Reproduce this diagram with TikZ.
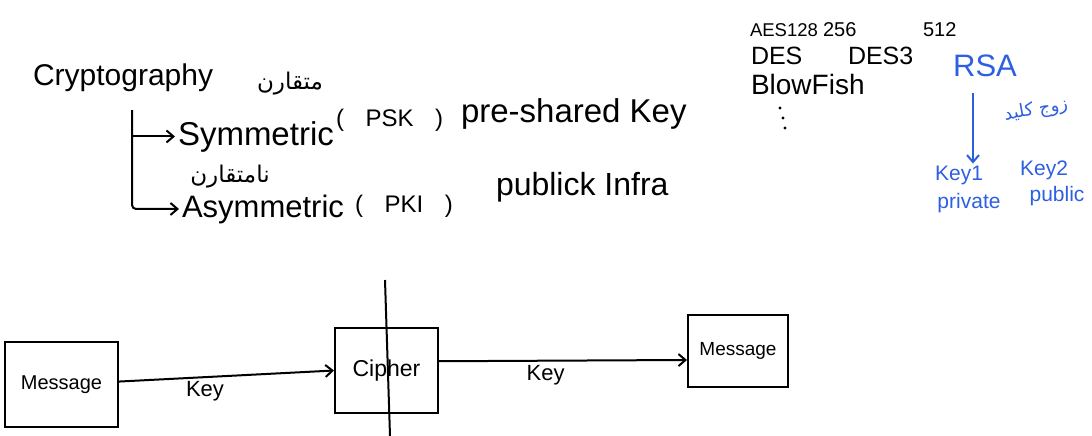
\documentclass[tikz,border=0pt]{standalone}
\usepackage{fontspec}
\setmainfont{Liberation Sans}
\newfontfamily\farsifont[Script=Arabic]{DejaVu Sans}
\TeXXeTstate=1
\usepackage{xcolor}
\usepackage{tikz}
\usetikzlibrary{arrows.meta}
\definecolor{penblue}{RGB}{45,95,225}

\begin{document}
\begin{tikzpicture}[x=1pt,y=-1pt,line width=2pt,>={Straight Barb[length=7pt,width=12pt]},
  word/.style={inner sep=2pt,anchor=base west},
  box node/.style={draw,inner sep=2pt,font=\fontsize{20}{24}\selectfont},
  blue word/.style={text=penblue,inner sep=1pt,font=\fontsize{21}{25}\selectfont}]
  \useasboundingbox (0,0) rectangle (1092,436);
  % kinds of cryptography
  \node[word,font=\fontsize{30}{36}\selectfont] (crypt) at (30,85) {Cryptography};
  \node[font=\fontsize{23}{27}\farsifont] (symfa) at (290,84) {\beginR متقارن\endR};
  \node[word,font=\fontsize{33}{38}\selectfont] (sym) at (175,145) {Symmetric};
  \node[word,font=\fontsize{24}{28}\selectfont] (psk) at (333,126) {(\hspace{.9em}PSK\hspace{.9em})};
  \node[word,font=\fontsize{33}{38}\selectfont] (psktext) at (458,122) {pre-shared Key};
  \node[font=\fontsize{23}{27}\farsifont] (asymfa) at (230,177) {\beginR نامتقارن\endR};
  \node[word,font=\fontsize{31}{36}\selectfont] (asym) at (179,217) {Asymmetric};
  \node[word,font=\fontsize{24}{28}\selectfont] (pki) at (352,212) {(\hspace{.9em}PKI\hspace{.9em})};
  \node[word,font=\fontsize{32}{38}\selectfont] (pkitext) at (493,195) {publick Infra};
  \coordinate (fork) at (132,110);
  \draw[->,rounded corners=4pt] (fork) |- (asym.west);
  \draw[->] (fork |- sym.west) -- (sym.west);

  % symmetric algorithms
  \node[word,font=\fontsize{18.5}{22}\selectfont] (aes) at (747,37) {AES128};
  \node[word,font=\fontsize{20}{24}\selectfont] (aes2) at (820,37) {256};
  \node[word,font=\fontsize{20}{24}\selectfont] (aes3) at (920,37) {512};
  \node[word,font=\fontsize{25}{30}\selectfont] (des) at (748,65) {DES};
  \node[word,font=\fontsize{25}{30}\selectfont] (des3) at (845,65) {DES3};
  \node[word,font=\fontsize{28}{33}\selectfont] (blow) at (748,94) {BlowFish};
  \foreach \y/\x in {108/780,118/783,128/785}
    \fill (\x,\y) circle (1.6);

  % RSA key pair
  \node[text=penblue,font=\fontsize{31}{36}\selectfont] (rsa) at (985,66) {RSA};
  \node[text=penblue,rotate=10,inner sep=0pt,font=\fontsize{18}{22}\farsifont] (pair) at (1036,110) {\beginR زوج کلید\endR};
  \node[blue word] (key1) at (959,175) {Key1};
  \node[blue word] (key2) at (1044,170) {Key2};
  \node[blue word] (priv) at (969,203) {private};
  \node[blue word] (pub) at (1057,196) {public};
  \coordinate (split) at (973,93);
  \draw[->,penblue] (split) -- (split |- key1.north);

  % message flow
  \node[box node,minimum width=113,minimum height=85] (msg1) at (61.5,384.5) {Message};
  \node[box node,minimum width=103,minimum height=85,font=\fontsize{23}{27}\selectfont] (cipher) at (386.5,370.5) {Cipher};
  \node[box node,minimum width=100,minimum height=72,font=\fontsize{19}{23}\selectfont] (msg2) at (738,351) {Message};
  \coordinate (cuttop) at (385,280);
  \coordinate (cutbot) at (390,436);
  \draw (cuttop) -- (cutbot);
  \path[font=\fontsize{22}{26}\selectfont]
    (msg1) edge[->] node[below,pos=0.4] {Key} (cipher.west)
    (cipher.10) edge[->] node[below,pos=0.43] {Key} (msg2.190);
\end{tikzpicture}
\end{document}
